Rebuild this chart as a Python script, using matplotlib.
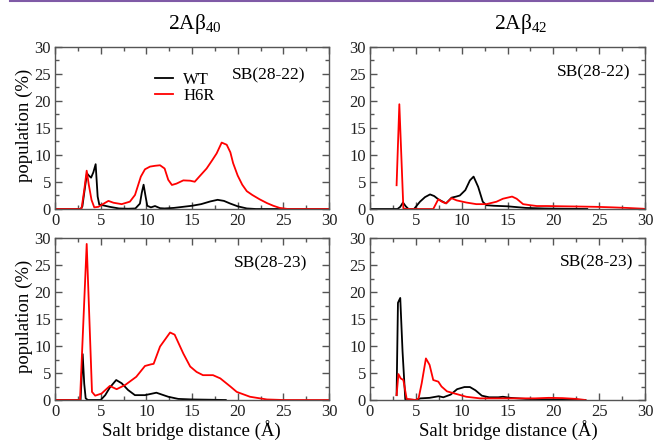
import numpy as np
import matplotlib.pyplot as plt
from matplotlib.lines import Line2D

plt.rcParams['font.family'] = ['Liberation Serif', 'DejaVu Serif']
plt.rcParams['mathtext.fontset'] = 'custom'
plt.rcParams['mathtext.rm'] = 'Liberation Serif'
plt.rcParams['mathtext.default'] = 'regular'

# 2Abeta40, SB(28-22)
ab40_sb22_wt_x = [0, 2.8, 3.0, 3.2, 3.5, 3.7, 3.95, 4.2, 4.45, 4.67, 4.85, 5.2, 6.0, 7.0, 8.0, 8.8, 9.3,
                  9.5, 9.7, 9.9, 10.1, 10.5, 10.95, 11.5, 12.0, 13.0, 14.0, 15.0, 16.0, 17.0, 17.8, 18.5,
                  19.2, 20.0, 21.0, 22.0, 30]
ab40_sb22_wt_y = [0, 0, 0.5, 3.0, 6.6, 6.2, 5.8, 6.8, 8.3, 2.3, 0.8, 0.7, 0.4, 0.1, 0.05, 0.1, 1.0,
                  3.0, 4.5, 2.5, 0.6, 0.3, 0.55, 0.15, 0.1, 0.2, 0.4, 0.6, 0.9, 1.4, 1.7, 1.5,
                  1.0, 0.5, 0.1, 0.0, 0.0]
ab40_sb22_h6r_x = [0, 2.9, 3.2, 3.47, 3.7, 4.0, 4.3, 4.75, 5.5, 5.85, 6.4, 7.3, 8.2, 8.76, 9.4, 9.85,
                   10.4, 10.95, 11.5, 12.0, 12.4, 12.8, 13.3, 14.05, 14.8, 15.3, 15.8, 16.6, 17.2, 17.7,
                   18.25, 18.8, 19.2, 19.5, 20.0, 20.5, 21.0, 21.6, 22.4, 23.2, 23.9, 24.6, 25.5, 30]
ab40_sb22_h6r_y = [0, 0, 3.5, 7.1, 4.5, 1.67, 0.3, 0.4, 1.16, 1.5, 1.16, 0.9, 1.36, 2.6, 6.0, 7.35,
                   7.85, 8.0, 8.1, 7.5, 5.4, 4.45, 4.7, 5.3, 5.24, 5.05, 6.0, 7.5, 9.0, 10.3,
                   12.3, 11.9, 10.5, 8.5, 6.2, 4.5, 3.3, 2.6, 1.8, 1.1, 0.6, 0.2, 0.0, 0.0]

# 2Abeta42, SB(28-22)
ab42_sb22_wt_x = [0, 3.0, 3.3, 3.6, 3.9, 4.2, 4.8, 5.45, 6.0, 6.55, 7.0, 7.45, 8.0, 8.3, 8.9, 9.4,
                  9.8, 10.4, 10.9, 11.3, 11.8, 12.3, 12.7, 13.5, 15, 17, 19, 21, 23.7]
ab42_sb22_wt_y = [0, 0, 0.4, 1.2, 0.5, 0.0, 0.0, 1.35, 2.2, 2.7, 2.4, 1.8, 1.3, 1.05, 2.1, 2.3,
                  2.5, 3.5, 5.3, 6.0, 4.1, 1.35, 0.7, 0.6, 0.5, 0.2, 0.1, 0.05, 0.0]
ab42_sb22_h6r_x = [2.9, 3.2, 3.64, 4.0, 6.9, 7.45, 7.9, 8.3, 8.9, 9.45, 10.5, 11.6, 12.7, 13.8, 14.5,
                   15.5, 16.0, 16.7, 17.5, 18.2, 19.3, 21, 23, 24.7, 26.5, 28, 29.8, 30]
ab42_sb22_h6r_y = [4.4, 19.4, 0.1, 0.0, 0.0, 1.8, 1.3, 1.05, 2.0, 1.6, 1.2, 0.9, 0.9, 1.35, 1.9,
                   2.3, 1.9, 0.9, 0.7, 0.55, 0.55, 0.5, 0.45, 0.4, 0.3, 0.2, 0.05, 0.0]

# 2Abeta40, SB(28-23)
ab40_sb23_wt_x = [0, 2.8, 3.03, 3.2, 3.36, 3.6, 5.0, 5.5, 6.0, 6.7, 7.3, 8.0, 8.75, 9.85, 11.1, 12.4,
                  13.5, 15, 17, 18.7]
ab40_sb23_wt_y = [0, 0, 8.5, 3.0, 0.3, 0.0, 0.0, 0.9, 2.3, 3.7, 3.1, 1.85, 0.9, 0.9, 1.35, 0.6,
                  0.2, 0.1, 0.05, 0.0]
ab40_sb23_h6r_x = [0, 2.74, 3.47, 4.05, 4.4, 5.1, 6.0, 6.75, 7.7, 8.9, 9.85, 10.5, 10.8, 11.5, 12.6,
                   13.1, 14.05, 14.8, 15.5, 16.2, 17.3, 18.1, 19.2, 19.9, 21.35, 23.2, 25, 30]
ab40_sb23_h6r_y = [0, 0, 28.9, 1.5, 0.8, 1.2, 2.6, 2.0, 2.8, 4.3, 6.3, 6.6, 6.7, 9.9, 12.5,
                   12.1, 8.6, 6.2, 5.2, 4.6, 4.6, 4.0, 2.5, 1.5, 0.6, 0.1, 0.0, 0.0]

# 2Abeta42, SB(28-23)
ab42_sb23_wt_x = [2.9, 3.05, 3.3, 3.55, 3.85, 5.0, 5.5, 6.5, 7.5, 8.0, 8.8, 9.5, 10.3, 10.9, 11.5,
                  12.2, 13.0, 14.0, 14.5, 15.3, 17, 20, 23.5]
ab42_sb23_wt_y = [0.9, 18.0, 18.9, 9.0, 0.1, 0.0, 0.3, 0.4, 0.7, 0.5, 1.0, 2.0, 2.4, 2.4, 1.8,
                  0.8, 0.5, 0.5, 0.6, 0.4, 0.2, 0.1, 0.0]
ab42_sb23_h6r_x = [2.9, 3.1, 3.35, 3.64, 4.0, 5.0, 5.3, 5.64, 6.1, 6.5, 6.9, 7.45, 7.8, 8.4, 9.45,
                   10.5, 12, 14, 16, 18, 19.5, 21, 22.5, 23.5]
ab42_sb23_h6r_y = [0.9, 4.8, 4.0, 3.7, 0.2, 0.0, 0.3, 3.1, 7.7, 6.5, 3.7, 3.4, 2.5, 1.6, 1.1,
                   0.6, 0.3, 0.3, 0.3, 0.3, 0.4, 0.35, 0.2, 0.0]

frame_color = '#555555'


def style_axes(ax):
    ax.set_xlim(0, 30)
    ax.set_ylim(0, 30)
    ax.set_xticks(np.arange(0, 31, 5))
    ax.set_yticks(np.arange(0, 31, 5))
    ax.set_xticks(np.arange(0, 31, 2.5), minor=True)
    ax.set_yticks(np.arange(0, 31, 2.5), minor=True)
    ax.tick_params(which='both', direction='in', top=True, right=True, color=frame_color,
                   labelsize=12, labelcolor='#222222', pad=3)
    ax.tick_params(which='major', length=5, width=1)
    ax.tick_params(which='minor', length=3, width=1)
    for sp in ax.spines.values():
        sp.set_color(frame_color)
        sp.set_linewidth(1.0)


fig = plt.figure(figsize=(6.54, 4.40), dpi=100)

w, h = 274 / 654, 162 / 440
ax_tl = fig.add_axes([55 / 654, 1 - 209 / 440, w, h])
ax_tr = fig.add_axes([370 / 654, 1 - 209 / 440, 275 / 654, h])
ax_bl = fig.add_axes([55 / 654, 1 - 400 / 440, w, h])
ax_br = fig.add_axes([370 / 654, 1 - 400 / 440, 275 / 654, h])

panels = [
    (ax_tl, ab40_sb22_wt_x, ab40_sb22_wt_y, ab40_sb22_h6r_x, ab40_sb22_h6r_y, 'SB(28-22)', (0.912, 0.827)),
    (ax_tr, ab42_sb22_wt_x, ab42_sb22_wt_y, ab42_sb22_h6r_x, ab42_sb22_h6r_y, 'SB(28-22)', (0.945, 0.846)),
    (ax_bl, ab40_sb23_wt_x, ab40_sb23_wt_y, ab40_sb23_h6r_x, ab40_sb23_h6r_y, 'SB(28-23)', (0.92, 0.846)),
    (ax_br, ab42_sb23_wt_x, ab42_sb23_wt_y, ab42_sb23_h6r_x, ab42_sb23_h6r_y, 'SB(28-23)', (0.956, 0.85)),
]

for ax, wx, wy, rx, ry, label, pos in panels:
    ax.plot(wx, wy, color='black', lw=1.3, label='WT')
    ax.plot(rx, ry, color='red', lw=1.3, label='H6R')
    style_axes(ax)
    ax.text(pos[0], pos[1], label, ha='right', va='center', fontsize=12.5, transform=ax.transAxes)

ax_tl.legend(loc='upper left', bbox_to_anchor=(0.365, 0.845), frameon=False, fontsize=12,
             handlelength=1.1, handletextpad=0.6, labelspacing=0.0, borderpad=0, borderaxespad=0)

# titles and axis labels
fig.text(195 / 654, 1 - 29 / 440, '2A\u03b2$_{40}$', ha='center', va='baseline', fontsize=15.5)
fig.text(521 / 654, 1 - 29 / 440, '2A\u03b2$_{42}$', ha='center', va='baseline', fontsize=15.5)
fig.text(24 / 654, 1 - 125 / 440, 'population (%)', rotation=90, ha='center', va='center', fontsize=13.5)
fig.text(24 / 654, 1 - 316 / 440, 'population (%)', rotation=90, ha='center', va='center', fontsize=13.5)
fig.text(191 / 654, 1 - 430 / 440, 'Salt bridge distance (\u00c5)', ha='center', va='center', fontsize=13.5)
fig.text(508 / 654, 1 - 430 / 440, 'Salt bridge distance (\u00c5)', ha='center', va='center', fontsize=13.5)

# purple rule along the top edge
fig.add_artist(Line2D([10 / 654, 1], [1 - 1 / 440, 1 - 1 / 440], transform=fig.transFigure,
                      color='#7f5aa6', lw=1.5))

fig.savefig('out.png', dpi=100)
